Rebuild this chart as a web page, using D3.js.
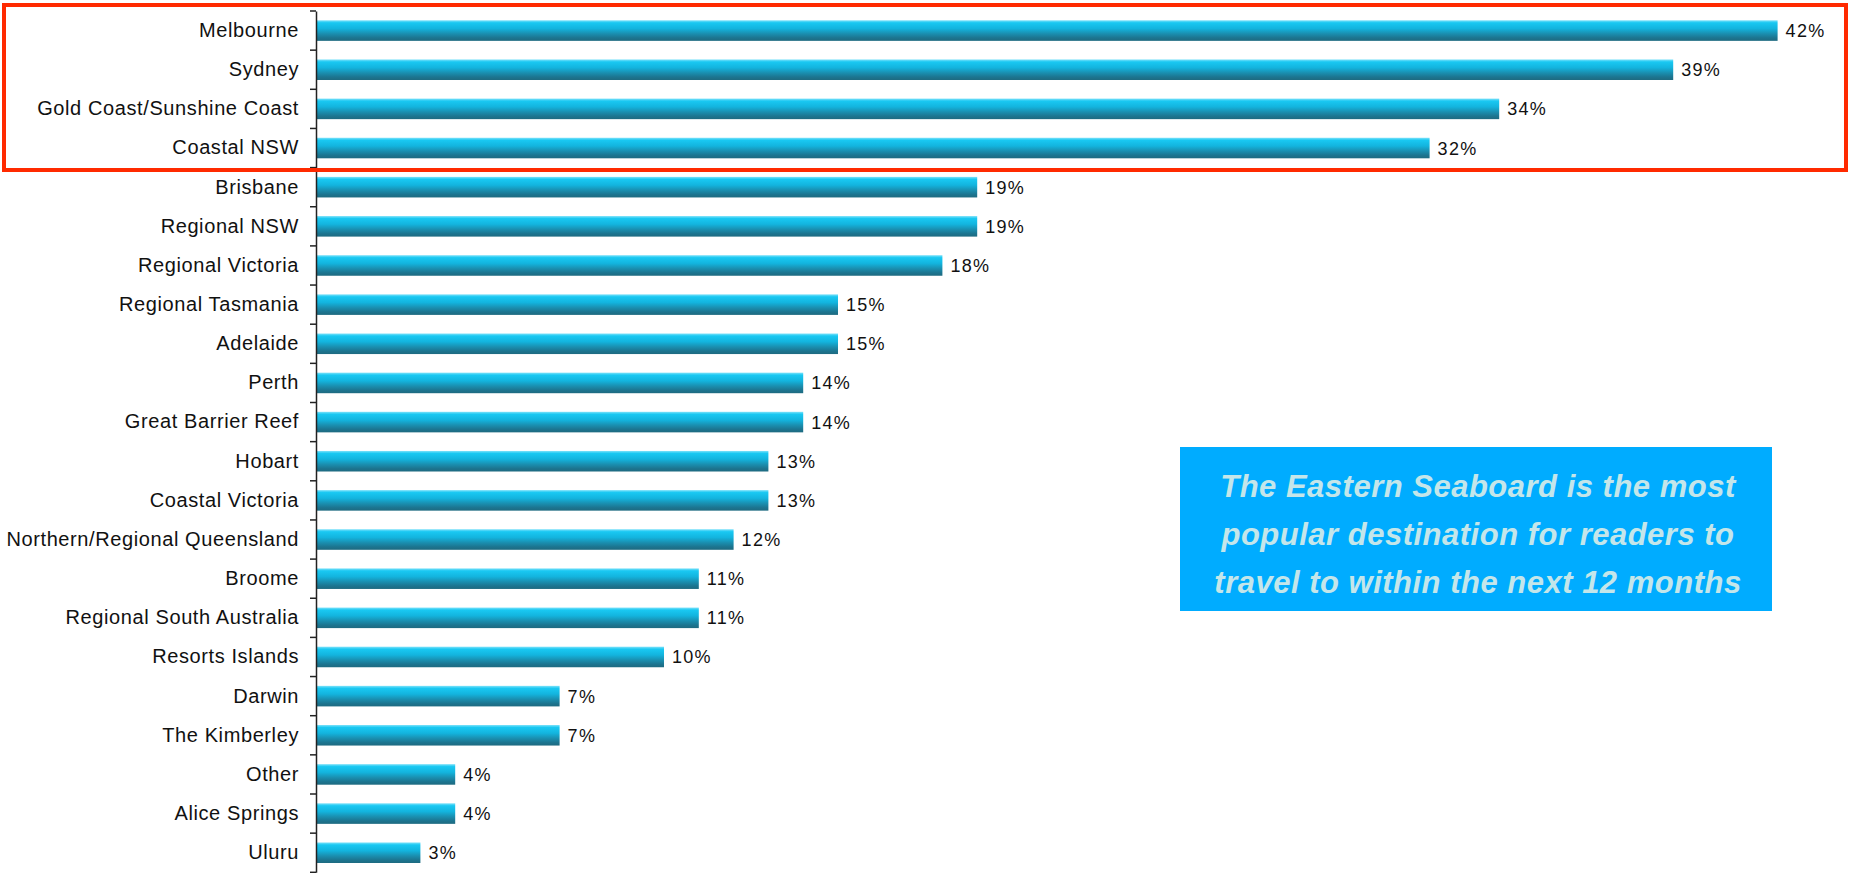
<!DOCTYPE html>
<html><head><meta charset="utf-8">
<script src="https://cdn.jsdelivr.net/npm/d3@7"></script>
<style>
html,body{margin:0;padding:0;background:#fff;}
svg{display:block;}
</style></head>
<body>
<svg id="chart" width="1855" height="873"></svg>
<script>
const categories = ["Melbourne","Sydney","Gold Coast/Sunshine Coast","Coastal NSW","Brisbane","Regional NSW","Regional Victoria","Regional Tasmania","Adelaide","Perth","Great Barrier Reef","Hobart","Coastal Victoria","Northern/Regional Queensland","Broome","Regional South Australia","Resorts Islands","Darwin","The Kimberley","Other","Alice Springs","Uluru"];
const values = [42,39,34,32,19,19,18,15,15,14,14,13,13,12,11,11,10,7,7,4,4,3];
const calloutLines = ["The Eastern Seaboard is the most","popular destination for readers to","travel to within the next 12 months"];

const svg = d3.select("#chart");
const x0 = 316, y0 = 11, step = 39.15;
const x = d3.scaleLinear().domain([0, 42]).range([x0, x0 + 42*34.8]);
const y = d3.scaleBand().domain(categories).range([y0, y0 + step*categories.length]).paddingInner(0.475).paddingOuter(0.2375);

const defs = svg.append("defs");
const g = defs.append("linearGradient").attr("id","barGrad").attr("x1",0).attr("y1",0).attr("x2",0).attr("y2",1);
[[0,"#7fe2fa"],[0.12,"#19c8f2"],[0.4,"#13b4de"],[0.65,"#1a8fb0"],[0.85,"#1c7590"],[1,"#1e6a80"]].forEach(([o,c])=>g.append("stop").attr("offset",o).attr("stop-color",c));

// bars
svg.append("g").selectAll("rect").data(categories).join("rect")
  .attr("x", x(0)).attr("y", d=>y(d)).attr("height", y.bandwidth())
  .attr("width", (d,i)=>x(values[i])-x(0)).attr("fill","url(#barGrad)");

// value labels
svg.append("g").selectAll("text").data(categories).join("text")
  .attr("x",(d,i)=>x(values[i])+8).attr("y",d=>y(d)+y.bandwidth()/2)
  .attr("dy","0.36em").attr("font-family","Liberation Sans, Arial, sans-serif")
  .attr("font-size",18).attr("letter-spacing","1.3px").attr("fill","#111")
  .text((d,i)=>values[i]+"%");

// axis
const axis = d3.axisLeft(y).tickSize(0).tickPadding(17);
const ag = svg.append("g").attr("transform",`translate(${x0},0)`).call(axis);
ag.select(".domain").attr("stroke","#222").attr("stroke-width",1.5);
ag.selectAll(".tick text").attr("font-family","Liberation Sans, Arial, sans-serif").attr("font-size",20).attr("fill","#111").attr("letter-spacing","0.6px");
// boundary ticks between categories
const bounds = d3.range(categories.length+1).map(i=>y0 + i*step);
svg.append("g").selectAll("line").data(bounds).join("line")
  .attr("x1",x0-6).attr("x2",x0).attr("y1",d=>d).attr("y2",d=>d).attr("stroke","#222").attr("stroke-width",1.5);

// highlight box
svg.append("rect").attr("x",4).attr("y",5).attr("width",1842).attr("height",165)
  .attr("fill","none").attr("stroke","#ff2a00").attr("stroke-width",4);

// callout
svg.append("rect").attr("x",1180).attr("y",447).attr("width",592).attr("height",164).attr("fill","#00acff");
svg.append("g").selectAll("text").data(calloutLines).join("text")
  .attr("x",1478).attr("y",(d,i)=>497 + i*48).attr("text-anchor","middle")
  .attr("font-family","Liberation Sans, Arial, sans-serif").attr("font-size",31)
  .attr("letter-spacing","0.5px")
  .attr("font-weight","bold").attr("font-style","italic").attr("fill","#c4e6ea")
  .text(d=>d);
</script>
</body></html>
